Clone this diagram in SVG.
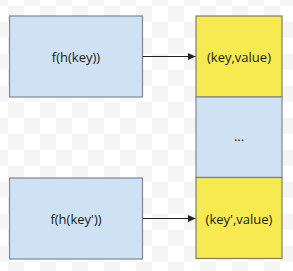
<svg xmlns="http://www.w3.org/2000/svg" width="293" height="271" viewBox="0 0 293 271">
<defs>
<pattern id="cb" width="32" height="32" patternUnits="userSpaceOnUse" x="8" y="5.7">
<rect width="32" height="32" fill="#ffffff"/>
<rect width="16" height="16" fill="#f5f5f5"/>
<rect x="16" y="16" width="16" height="16" fill="#f5f5f5"/>
</pattern>
<marker id="ah" markerWidth="8" markerHeight="7" refX="7.5" refY="3.5" orient="auto" markerUnits="userSpaceOnUse">
<path d="M0,0 L7.5,3.5 L0,7 Z" fill="#222"/>
</marker>
</defs>
<style>
.blue{fill:#cfe2f3;stroke:#7f8790;stroke-width:1.2}
.yellow{fill:#f7e950;stroke:#7f7f6a;stroke-width:1.2}
.t{font-family:"Open Sans",sans-serif;font-size:13px;fill:#1a1a1a;text-anchor:middle}
.c{stroke:#222;stroke-width:1;fill:none}
</style>
<rect width="293" height="271" fill="url(#cb)"/>
<g id="hash1">
<rect class="blue" x="9.5" y="16" width="133" height="81"/>
<text class="t" x="76" y="61.5">f(h(key))</text>
</g>
<g id="hash2">
<rect class="blue" x="9.5" y="178" width="133" height="81"/>
<text class="t" x="76" y="223.5">f(h(key'))</text>
</g>
<g id="cell1">
<rect class="yellow" x="196" y="16" width="86" height="81"/>
<text class="t" x="239" y="61.5">(key,value)</text>
</g>
<g id="cell2">
<rect class="blue" x="196" y="97" width="86" height="80.5"/>
<text class="t" x="239" y="140.5">...</text>
</g>
<g id="cell3">
<rect class="yellow" x="196" y="177.5" width="86" height="81"/>
<text class="t" x="239" y="223.5">(key',value)</text>
</g>
<g id="connectors">
<line class="c" x1="142.5" y1="56.5" x2="195.5" y2="56.5" marker-end="url(#ah)"/>
<line class="c" x1="142.5" y1="218.5" x2="195.5" y2="218.5" marker-end="url(#ah)"/>
</g>
</svg>
